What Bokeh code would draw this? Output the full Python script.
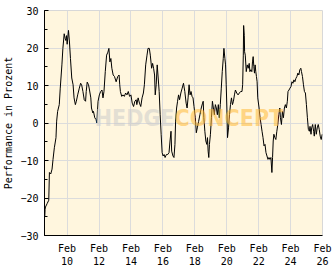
import numpy as np
import pandas as pd
from bokeh.plotting import figure
from bokeh.models import (Range1d, FixedTicker, SingleIntervalTicker,
                          DatetimeTickFormatter, Label, ColumnDataSource)
from bokeh.embed import file_html
from bokeh.resources import INLINE

# --- data: time as fractional day of February, performance in percent ---
feb_day = [
    8.60, 8.62, 8.644, 8.747, 8.850, 8.891, 8.973, 9.056, 9.117, 9.200, 9.303, 9.344,
    9.406, 9.509, 9.570, 9.673, 9.735, 9.817, 9.879, 9.920, 9.962, 10.003, 10.085,
    10.147, 10.209, 10.291, 10.374, 10.435, 10.517, 10.579, 10.662, 10.765, 10.847,
    10.909, 10.991, 11.073, 11.156, 11.197, 11.259, 11.341, 11.403, 11.485, 11.526,
    11.609, 11.650, 11.732, 11.815, 11.856, 11.938, 12.020, 12.103, 12.185, 12.247,
    12.309, 12.391, 12.474, 12.556, 12.618, 12.679, 12.741, 12.803, 12.885, 12.968,
    13.071, 13.173, 13.256, 13.297, 13.338, 13.420, 13.503, 13.585, 13.667, 13.750,
    13.832, 13.914, 13.997, 14.079, 14.162, 14.244, 14.326, 14.367, 14.450, 14.532,
    14.614, 14.697, 14.779, 14.841, 14.923, 15.006, 15.067, 15.150, 15.212, 15.294,
    15.356, 15.417, 15.479, 15.520, 15.582, 15.644, 15.706, 15.767, 15.829, 15.891,
    15.953, 16.014, 16.076, 16.138, 16.220, 16.303, 16.385, 16.447, 16.509, 16.550,
    16.632, 16.694, 16.756, 16.797, 16.859, 16.920, 16.982, 17.044, 17.126, 17.209,
    17.291, 17.373, 17.456, 17.517, 17.579, 17.641, 17.703, 17.764, 17.826, 17.888,
    17.950, 18.032, 18.094, 18.156, 18.238, 18.320, 18.403, 18.485, 18.526, 18.567,
    18.629, 18.691, 18.753, 18.794, 18.835, 18.876, 18.917, 18.979, 19.041, 19.103,
    19.164, 19.226, 19.288, 19.350, 19.411, 19.473, 19.535, 19.597, 19.659, 19.720,
    19.782, 19.823, 19.885, 19.926, 19.967, 20.009, 20.050, 20.112, 20.173, 20.235,
    20.297, 20.359, 20.420, 20.482, 20.544, 20.626, 20.709, 20.791, 20.873, 20.956,
    20.997, 21.038, 21.059, 21.100, 21.120, 21.162, 21.223, 21.285, 21.347, 21.409,
    21.450, 21.512, 21.573, 21.614, 21.656, 21.697, 21.738, 21.779, 21.820, 21.862,
    21.903, 21.944, 22.027, 22.089, 22.151, 22.212, 22.274, 22.336, 22.398, 22.459,
    22.521, 22.583, 22.645, 22.706, 22.768, 22.830, 22.871, 22.912, 22.954, 23.015,
    23.077, 23.139, 23.201, 23.262, 23.324, 23.365, 23.427, 23.489, 23.551, 23.612,
    23.674, 23.736, 23.798, 23.839, 23.901, 23.962, 24.024, 24.086, 24.148, 24.209,
    24.271, 24.333, 24.395, 24.457, 24.518, 24.580, 24.642, 24.683, 24.745, 24.807,
    24.868, 24.930, 24.992, 25.054, 25.115, 25.177, 25.218, 25.280, 25.321, 25.383,
    25.445, 25.486, 25.548, 25.610, 25.671, 25.733, 25.795, 25.857, 25.918, 25.980,
]
performance = [
    -25.0, -23.0, -22.4, -21.5, -20.6, -13.2, -13.6, -12.3, -9.7, -6.6, -3.9, 0.5,
    3.1, 4.9, 9.3, 15.5, 19.9, 23.8, 22.5, 22.0, 23.3, 21.0, 24.7,
    21.6, 17.2, 12.0, 10.2, 6.7, 4.9, 5.8, 7.5, 9.3, 10.6,
    10.2, 8.4, 6.2, 5.8, 8.4, 10.9, 10.2, 8.8, 6.7, 4.0,
    2.7, 3.1, 1.4, 0.9, 0.0, 5.8, 7.5, 8.4, 8.8, 6.7,
    8.4, 13.7, 18.1, 18.9, 19.9, 16.3, 17.2, 14.6, 12.8, 12.4,
    11.0, 12.4, 12.8, 10.2, 8.4, 7.1, 7.5, 7.1, 8.0, 7.5,
    8.4, 7.1, 7.5, 5.3, 4.4, 5.8, 6.2, 4.9, 6.7, 5.3,
    4.4, 6.7, 8.0, 10.2, 15.5, 18.1, 19.9, 19.9, 18.1, 14.6,
    15.9, 14.6, 12.8, 7.5, 10.2, 15.5, 12.0, 8.4, 2.2, -3.0,
    -7.9, -8.8, -8.4, -9.2, -8.4, -8.4, -7.9, -4.8, -2.2, -7.5,
    -8.8, -9.2, -5.7, 0.5, 4.0, 5.8, 7.5, 6.2, 8.0, 9.3,
    10.6, 8.4, 5.3, 4.0, 6.7, 10.2, 7.5, 8.4, 7.1, 6.7,
    4.4, 1.4, -2.6, -1.3, 0.4, 2.2, 4.0, 5.3, 5.8, 1.4,
    -2.2, -4.8, -5.7, -3.9, -7.5, -9.2, -5.7, -3.0, 1.4, 5.8,
    4.0, 2.2, 4.9, 4.0, 2.2, 4.9, 1.4, 4.9, 9.3, 13.7,
    17.2, 19.9, 17.2, 15.5, 10.2, 4.0, -3.9, -1.3, 2.2, 4.9,
    6.7, 4.9, 5.8, 7.5, 8.8, 8.0, 7.5, 8.0, 8.4, 8.4,
    10.2, 18.1, 26.0, 23.4, 19.0, 18.1, 13.7, 15.5, 14.6, 15.9,
    13.7, 14.2, 13.7, 16.3, 17.7, 15.1, 13.3, 15.5, 13.7, 12.4,
    11.0, 6.7, 4.0, 1.4, -0.4, -2.2, -3.9, -6.1, -5.7, -7.9,
    -8.8, -9.7, -9.2, -9.7, -9.2, -13.2, -9.2, -4.8, -3.0, -3.9,
    -4.4, -2.2, -0.4, 2.2, 4.0, 1.4, -0.4, 3.1, 1.4, 4.0,
    4.9, 4.0, 5.8, 8.4, 8.8, 9.3, 9.7, 11.0, 10.6, 11.5,
    11.0, 11.9, 12.4, 13.3, 12.8, 14.2, 14.6, 13.7, 12.4, 10.2,
    8.4, 8.0, 4.9, 1.4, -1.7, -2.2, -0.9, -3.0, -1.3, -0.4,
    -2.2, -3.5, -0.4, -3.0, -1.3, -0.4, -1.7, -3.5, -4.4, -3.0,
]
tick_days = [10, 12, 14, 16, 18, 20, 22, 24, 26]
y_label = "Performance in Prozent"
watermark = ["HEDGE", "CONCEPT"]

base = pd.Timestamp("2021-02-01")
times = base + pd.to_timedelta(np.array(feb_day) - 1.0, unit="D")
src = ColumnDataSource(dict(t=times, v=performance))

def ms(day):
    return (base + pd.to_timedelta(day - 1.0, unit="D")).value / 1e6

p = figure(width=332, height=269, x_axis_type="datetime",
           output_backend="svg", toolbar_location=None,
           x_range=Range1d(ms(8.583), ms(26.0)), y_range=Range1d(-30, 30),
           min_border_left=40, min_border_right=10, min_border_top=10,
           min_border_bottom=32)

p.background_fill_color = "#FFF6DE"
p.border_fill_color = "white"
p.outline_line_color = "#D8D8D8"

# x axis
p.xaxis.ticker = FixedTicker(ticks=[ms(d) for d in tick_days], minor_ticks=[])
fmt = "%b\n%d"
p.xaxis.formatter = DatetimeTickFormatter(days=fmt, hours=fmt, months=fmt,
                                          hourmin=fmt, minutes=fmt)
p.xaxis.major_tick_in = 0
p.xaxis.major_tick_out = 0
p.xaxis.minor_tick_in = 0
p.xaxis.minor_tick_out = 0
p.xaxis.major_label_standoff = 7

# y axis
p.yaxis.ticker = SingleIntervalTicker(interval=10, num_minor_ticks=2)
p.yaxis.major_tick_in = 4
p.yaxis.major_tick_out = 0
p.yaxis.minor_tick_in = 3
p.yaxis.minor_tick_out = 0
p.yaxis.major_label_standoff = 6
p.yaxis.axis_label = y_label
p.yaxis.axis_label_standoff = 3
p.yaxis.axis_label_text_font_style = "normal"

for ax in (p.xaxis, p.yaxis):
    ax.axis_line_color = "black"
    ax.major_tick_line_color = "black"
    ax.minor_tick_line_color = "black"
    ax.major_label_text_font = "DejaVu Sans Mono"
    ax.major_label_text_font_size = "10px"
    ax.major_label_text_color = "black"
    ax.axis_label_text_font = "DejaVu Sans Mono"
    ax.axis_label_text_font_size = "10px"
    ax.axis_label_text_color = "black"

p.xgrid.grid_line_color = "#DCDCDC"
p.ygrid.grid_line_color = "#DCDCDC"
p.xgrid.ticker = p.xaxis.ticker
p.ygrid.ticker = SingleIntervalTicker(interval=10)

# watermark
p.add_layout(Label(x=130, y=105, x_units="screen", y_units="screen",
                   text=watermark[0], text_align="right",
                   text_font="Liberation Sans Narrow, DejaVu Sans Condensed, sans-serif",
                   text_font_style="bold", text_font_size="23px",
                   text_color="#C8C8C8", text_alpha=0.5))
p.add_layout(Label(x=130, y=105, x_units="screen", y_units="screen",
                   text=watermark[1], text_align="left",
                   text_font="Liberation Sans Narrow, DejaVu Sans Condensed, sans-serif",
                   text_font_style="bold", text_font_size="23px",
                   text_color="#FFB833", text_alpha=0.55))

p.line("t", "v", source=src, line_color="black", line_width=1)

open("out.html", "w").write(file_html(p, INLINE))
